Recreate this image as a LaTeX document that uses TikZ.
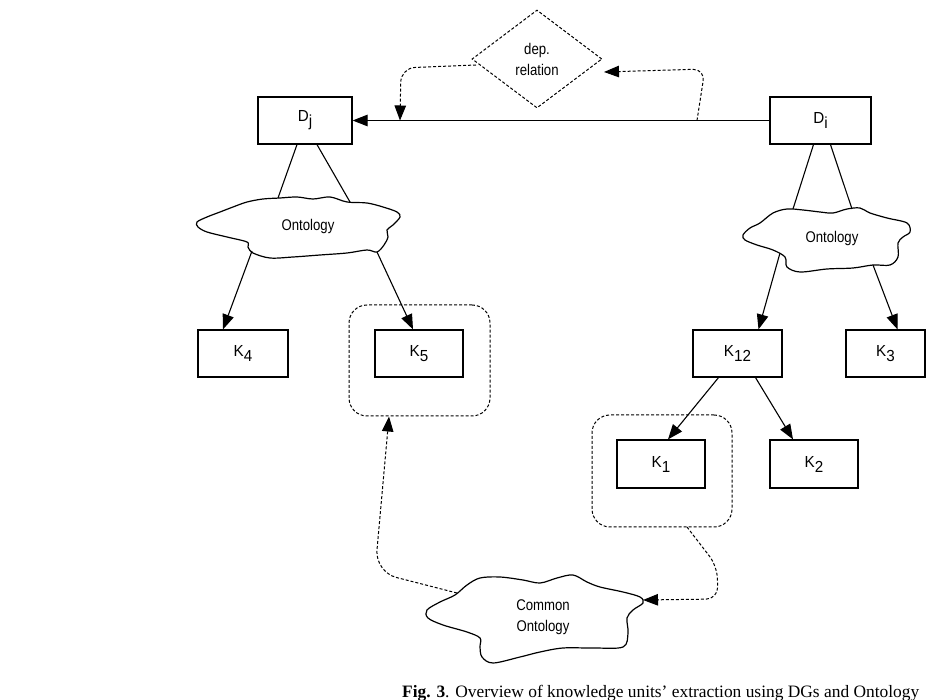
\documentclass[tikz,border=0pt]{standalone}
\usepackage{fontspec}
\setmainfont{Liberation Serif}
\newfontfamily\lblfont[FakeStretch=0.95]{Liberation Sans}
\newfontfamily\cldfont[FakeStretch=0.85]{Liberation Sans}
\usetikzlibrary{arrows.meta,shapes.geometric}
\tikzset{
  box/.style={draw, line width=1.2pt, rectangle, minimum height=47pt, inner sep=0pt, font=\lblfont\fontsize{16}{16}\selectfont},
  grp/.style={draw, line width=1pt, dash pattern=on 3pt off 2pt, rounded corners=18pt, inner sep=0pt},
  dia/.style={draw, line width=1pt, dash pattern=on 3pt off 2pt, diamond, inner sep=0pt, minimum width=130pt, minimum height=98pt},
  cld/.style={draw, line width=1.2pt},
  ctext/.style={font=\cldfont\fontsize{15.5}{21}\selectfont, align=center, inner sep=0pt},
  tip/.style={-{Triangle[length=15pt,width=11.5pt]}},
  ln/.style={line width=1.1pt},
  dsh/.style={line width=1pt, dash pattern=on 3pt off 2pt},
}
\newcommand{\sbs}[2]{#1\raisebox{-5pt}{#2}}
\begin{document}
\begin{tikzpicture}[x=1pt,y=-1pt]
\useasboundingbox (0,0) rectangle (927,700);
\fill[white] (0,0) rectangle (927,700);

% boxes
\node[box, minimum width=94pt] (Dj) at (305,120.5) {\sbs{D}{j}};
\node[box, minimum width=101pt] (Di) at (820.5,120.5) {\sbs{D}{i}};
\node[box, minimum width=90pt] (K4) at (243,353.5) {\sbs{K}{4}};
\node[box, minimum width=88pt] (K5) at (419,353.5) {\sbs{K}{5}};
\node[box, minimum width=89pt] (K12) at (737.5,353.5) {\sbs{K}{12}};
\node[box, minimum width=79pt] (K3) at (885.5,353.5) {\sbs{K}{3}};
\node[box, minimum width=88pt, minimum height=48pt] (K1) at (661,464) {\sbs{K}{1}};
\node[box, minimum width=88pt, minimum height=48pt] (K2) at (814,464) {\sbs{K}{2}};

% dashed groups
\node[grp, minimum width=141pt, minimum height=111pt] (g5) at (419.5,360.5) {};
\node[grp, minimum width=140pt, minimum height=112pt] (g1) at (662,471) {};

% diamond
\node[dia] (dr) at (537,59) {};
\node[ctext] (drt) at (537,59) {dep.\\relation};

% clouds
\draw[cld] plot[smooth cycle, tension=0.55] coordinates {
 (197,222) (207,217) (220,212) (233,207) (247,202) (263,199) (280,198) (297,197)
 (313,199) (330,197) (347,202) (367,203) (383,207) (397,212) (400,217) (393,225)
 (387,230) (388,237) (384,245) (377,252) (367,250) (347,253) (320,255) (293,257)
 (270,258) (253,253) (248,247) (247,242) (227,237) (207,232) (198,227)};
\node[ctext] (oL) at (308,226) {Ontology};

\draw[cld] plot[smooth cycle, tension=0.55] coordinates {
 (743,235) (750,228) (760,223) (773,213) (787,209) (803,210) (820,212) (833,213)
 (847,209) (860,208) (870,213) (887,218) (907,223) (910,232) (903,237) (898,243)
 (898,257) (890,265) (873,265) (853,268) (827,269) (800,272) (787,267) (785,257)
 (773,250) (757,245) (745,240)};
\node[ctext] (oR) at (832,238) {Ontology};

\draw[cld] plot[smooth cycle, tension=0.55] coordinates {
 (427,610) (440,602) (455,595) (467,585) (480,578) (500,577) (523,580) (540,583)
 (557,578) (573,575) (587,582) (600,587) (623,592) (640,597) (643,603) (633,610)
 (627,618) (628,633) (623,647) (593,648) (563,648) (540,652) (520,657) (493,663)
 (482,657) (480,647) (480,638) (467,632) (443,625) (428,618)};
\node[ctext] (oC) at (543,617) {Common\\Ontology};

% named points on cloud outlines and lines
\coordinate (oLt1) at (278,198);
\coordinate (oLt2) at (350,202);
\coordinate (oLb1) at (252,251);
\coordinate (oLb2) at (377,252);
\coordinate (oRt1) at (793,209);
\coordinate (oRt2) at (852,209);
\coordinate (oRb1) at (780,253);
\coordinate (oRb2) at (873,265);
\coordinate (oCin) at (643,600);
\coordinate (oCout) at (457,593);
\coordinate (jl) at (400,120.5);
\coordinate (il) at (697,120.5);
\coordinate (drL) at (476,65);
\coordinate (drR) at (604,72);
\coordinate (g1b) at (687,527);

% solid connectors
\draw[ln, tip] (Di.west) -- (Dj.east);
\draw[ln] ([xshift=-8pt]Dj.south) -- (oLt1);
\draw[ln] ([xshift=12pt]Dj.south) -- (oLt2);
\draw[ln] ([xshift=-7pt]Di.south) -- (oRt1);
\draw[ln] ([xshift=10pt]Di.south) -- (oRt2);
\draw[ln, tip] (oLb1) -- ([xshift=-20pt]K4.north);
\draw[ln, tip] (oLb2) -- ([xshift=-6pt]K5.north);
\draw[ln, tip] (oRb1) -- ([xshift=21pt]K12.north);
\draw[ln, tip] (oRb2) -- ([xshift=12pt]K3.north);
\draw[ln, tip] ([xshift=-19pt]K12.south) -- ([xshift=7pt]K1.north);
\draw[ln, tip] ([xshift=18pt]K12.south) -- ([xshift=-21pt]K2.north);

% dashed connectors
\draw[dsh, tip, rounded corners=14pt] (drL) -- (401,68) -- (jl);
\draw[dsh, tip, rounded corners=12pt] (il) -- (705,69) -- (drR);
\draw[dsh, tip, rounded corners=22pt] (oCout) -- (375,572) -- (389,416.5);
\draw[dsh, tip, rounded corners=12pt] (g1b) -- (717,566) -- (718,599) -- (oCin);

% caption
\node[anchor=base west, inner sep=0pt, font=\fontsize{17.4}{17.4}\selectfont] (cap) at (402,697)
  {\textbf{Fig. 3}. Overview of knowledge units’ extraction using DGs and Ontology};
\end{tikzpicture}
\end{document}
